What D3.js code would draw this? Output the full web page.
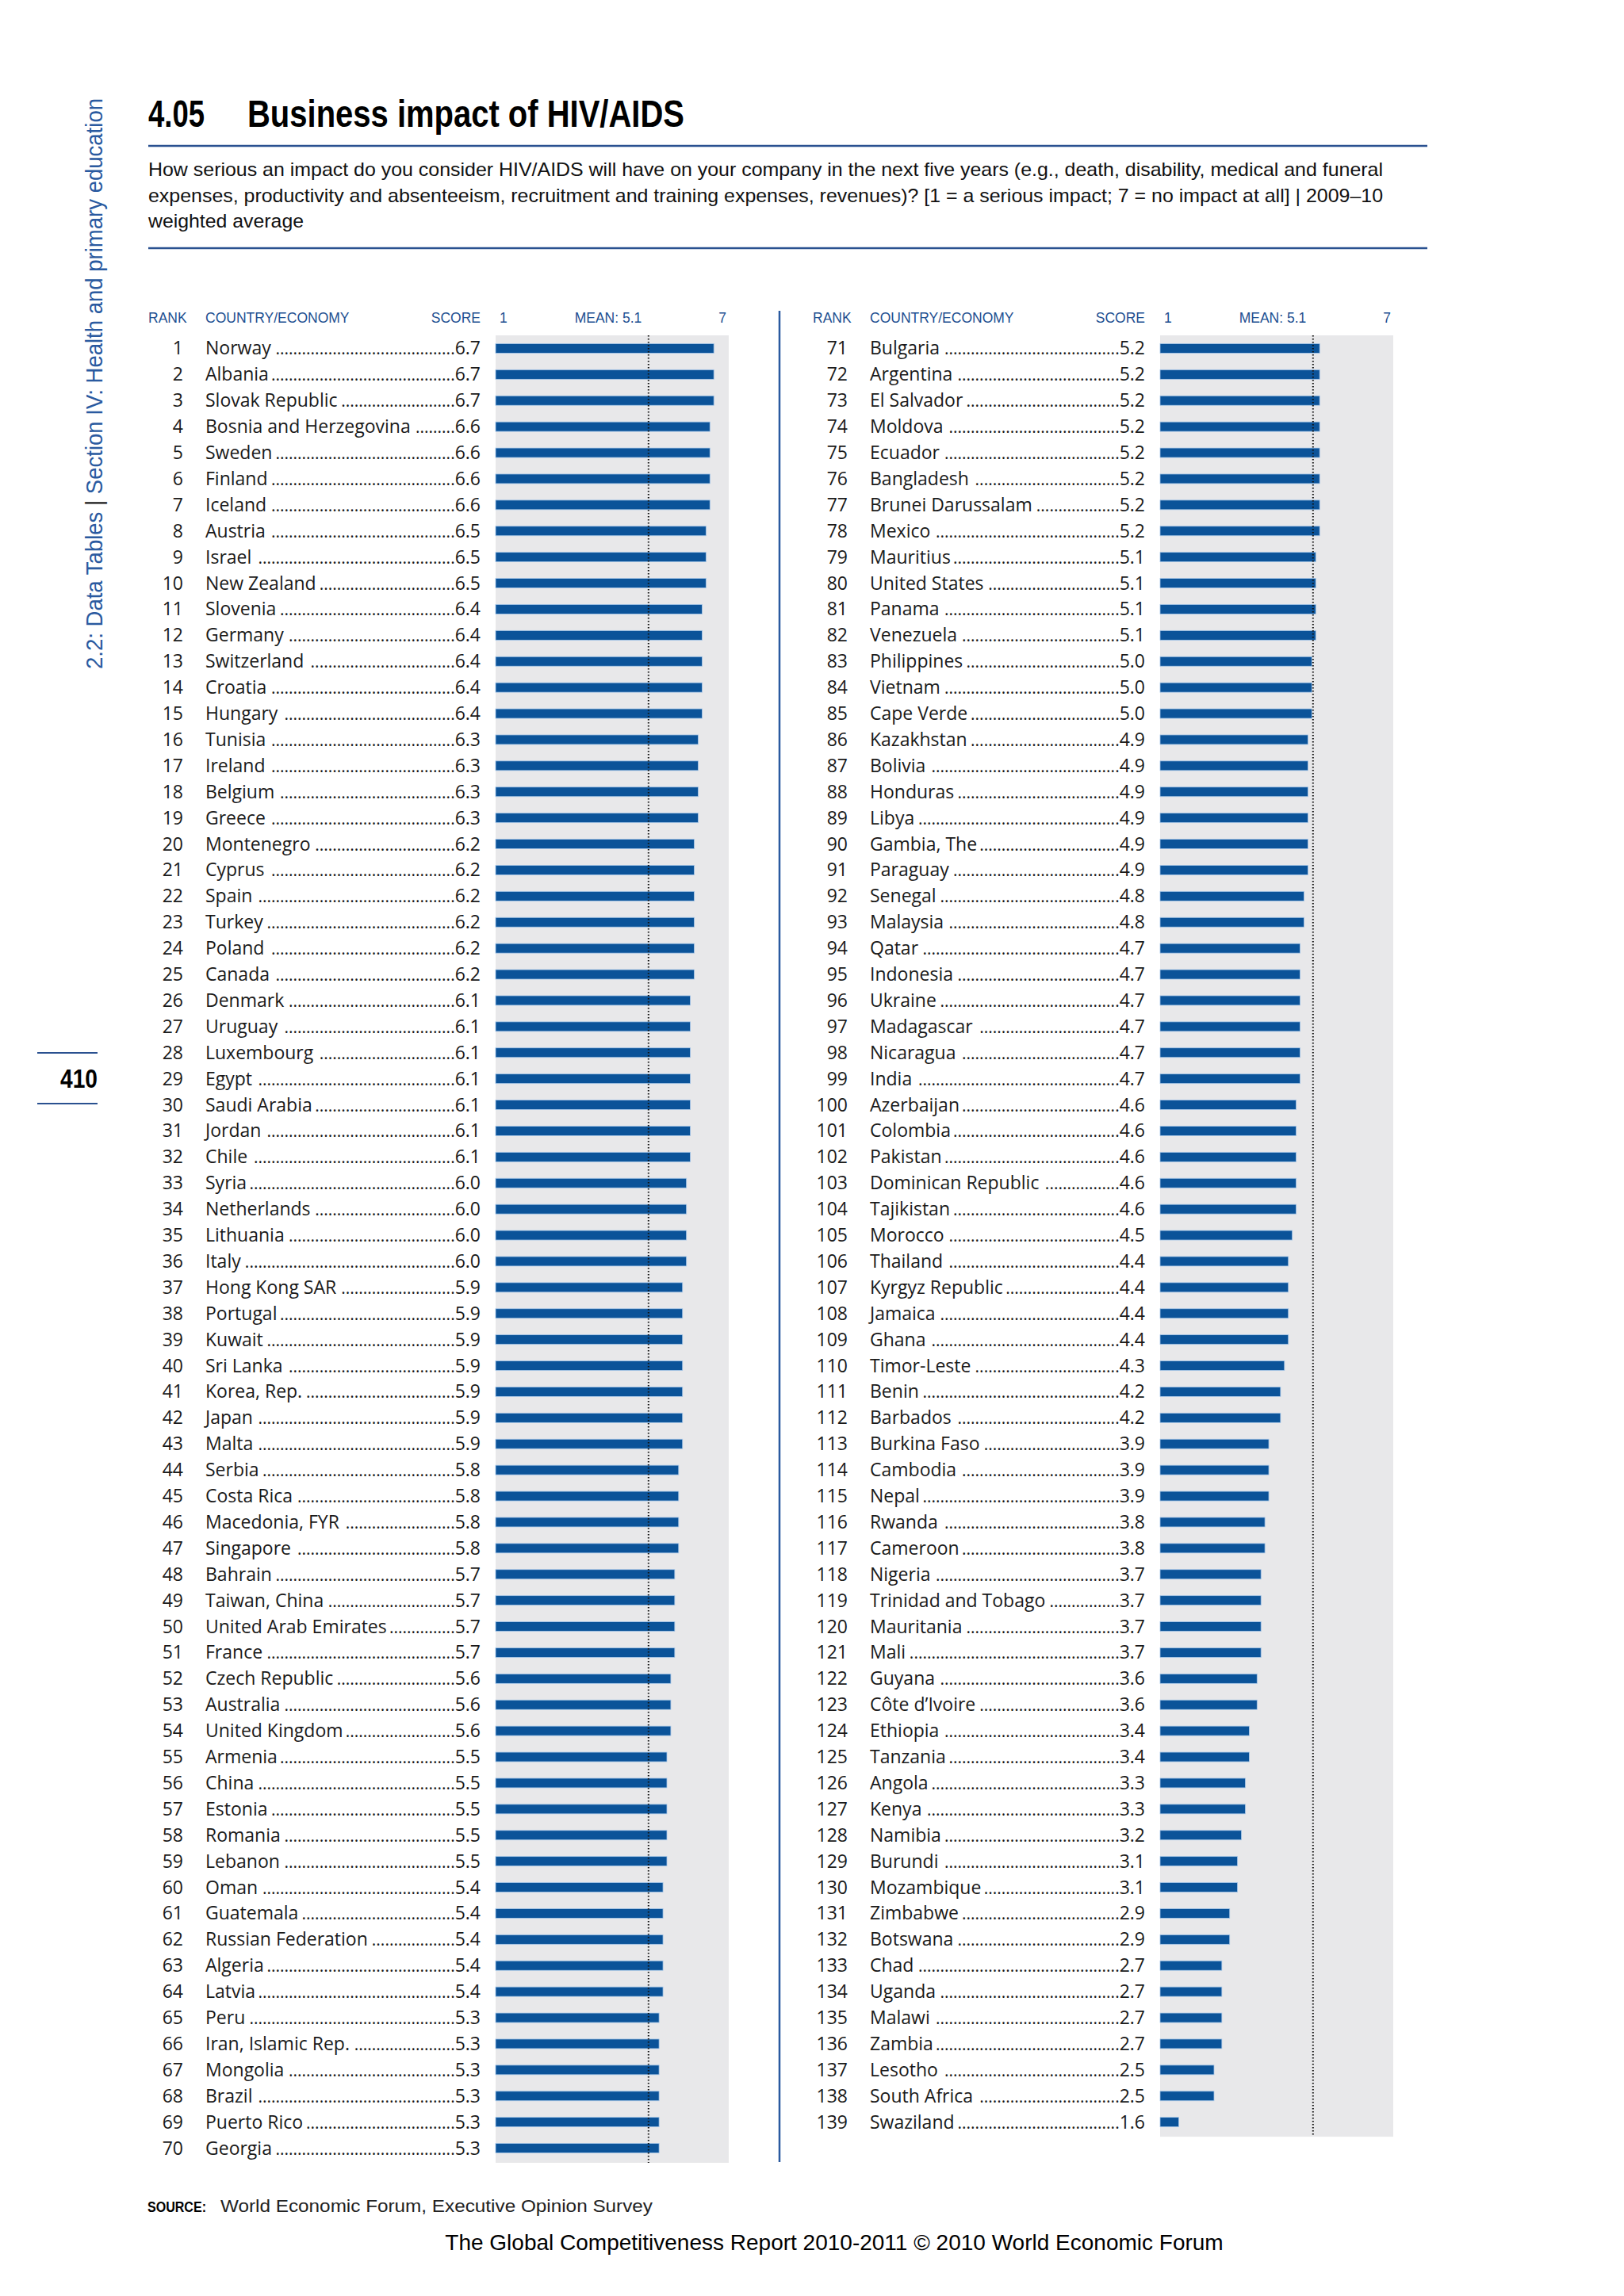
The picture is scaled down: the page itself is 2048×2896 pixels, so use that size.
<!DOCTYPE html>
<html>
<head>
<meta charset="utf-8">
<script src="https://cdn.jsdelivr.net/npm/d3@7"></script>
<style>
  body { margin: 0; background: #fff; }
  svg { display: block; }
</style>
</head>
<body>
<svg id="chart"></svg>
<script>
// countries in rank order (rank = position + 1)
const countries = [
  "Norway", "Albania", "Slovak Republic", "Bosnia and Herzegovina", "Sweden", "Finland", "Iceland",
  "Austria", "Israel", "New Zealand", "Slovenia", "Germany", "Switzerland", "Croatia", "Hungary",
  "Tunisia", "Ireland", "Belgium", "Greece", "Montenegro", "Cyprus", "Spain", "Turkey", "Poland",
  "Canada", "Denmark", "Uruguay", "Luxembourg", "Egypt", "Saudi Arabia", "Jordan", "Chile", "Syria",
  "Netherlands", "Lithuania", "Italy", "Hong Kong SAR", "Portugal", "Kuwait", "Sri Lanka",
  "Korea, Rep.", "Japan", "Malta", "Serbia", "Costa Rica", "Macedonia, FYR", "Singapore", "Bahrain",
  "Taiwan, China", "United Arab Emirates", "France", "Czech Republic", "Australia", "United Kingdom",
  "Armenia", "China", "Estonia", "Romania", "Lebanon", "Oman", "Guatemala", "Russian Federation",
  "Algeria", "Latvia", "Peru", "Iran, Islamic Rep.", "Mongolia", "Brazil", "Puerto Rico", "Georgia",
  "Bulgaria", "Argentina", "El Salvador", "Moldova", "Ecuador", "Bangladesh", "Brunei Darussalam",
  "Mexico", "Mauritius", "United States", "Panama", "Venezuela", "Philippines", "Vietnam",
  "Cape Verde", "Kazakhstan", "Bolivia", "Honduras", "Libya", "Gambia, The", "Paraguay", "Senegal",
  "Malaysia", "Qatar", "Indonesia", "Ukraine", "Madagascar", "Nicaragua", "India", "Azerbaijan",
  "Colombia", "Pakistan", "Dominican Republic", "Tajikistan", "Morocco", "Thailand",
  "Kyrgyz Republic", "Jamaica", "Ghana", "Timor-Leste", "Benin", "Barbados", "Burkina Faso",
  "Cambodia", "Nepal", "Rwanda", "Cameroon", "Nigeria", "Trinidad and Tobago", "Mauritania", "Mali",
  "Guyana", "Côte d’Ivoire", "Ethiopia", "Tanzania", "Angola", "Kenya", "Namibia", "Burundi",
  "Mozambique", "Zimbabwe", "Botswana", "Chad", "Uganda", "Malawi", "Zambia", "Lesotho",
  "South Africa", "Swaziland"
];

const scores = [
  6.7, 6.7, 6.7, 6.6, 6.6, 6.6, 6.6, 6.5, 6.5, 6.5, 6.4, 6.4, 6.4, 6.4, 6.4,
  6.3, 6.3, 6.3, 6.3, 6.2, 6.2, 6.2, 6.2, 6.2, 6.2, 6.1, 6.1, 6.1, 6.1, 6.1, 6.1, 6.1,
  6.0, 6.0, 6.0, 6.0, 5.9, 5.9, 5.9, 5.9, 5.9, 5.9, 5.9, 5.8, 5.8, 5.8, 5.8,
  5.7, 5.7, 5.7, 5.7, 5.6, 5.6, 5.6, 5.5, 5.5, 5.5, 5.5, 5.5, 5.4, 5.4, 5.4, 5.4, 5.4,
  5.3, 5.3, 5.3, 5.3, 5.3, 5.3,
  5.2, 5.2, 5.2, 5.2, 5.2, 5.2, 5.2, 5.2, 5.1, 5.1, 5.1, 5.1, 5.0, 5.0, 5.0,
  4.9, 4.9, 4.9, 4.9, 4.9, 4.9, 4.8, 4.8, 4.7, 4.7, 4.7, 4.7, 4.7, 4.7,
  4.6, 4.6, 4.6, 4.6, 4.6, 4.5, 4.4, 4.4, 4.4, 4.4, 4.3, 4.2, 4.2,
  3.9, 3.9, 3.9, 3.8, 3.8, 3.7, 3.7, 3.7, 3.7, 3.6, 3.6, 3.4, 3.4, 3.3, 3.3, 3.2, 3.1, 3.1,
  2.9, 2.9, 2.7, 2.7, 2.7, 2.7, 2.5, 2.5, 1.6
];

const scaleExtent = [1, 7];
const meanLabel = "MEAN: 5.1";
const meanLine = 5.03;   // where the dotted line sits in the picture
const headers = ["RANK", "COUNTRY/ECONOMY", "SCORE"];

const titleNumber = "4.05";
const titleText = "Business impact of HIV/AIDS";
const subtitleLines = [
  "How serious an impact do you consider HIV/AIDS will have on your company in the next five years (e.g., death, disability, medical and funeral",
  "expenses, productivity and absenteeism, recruitment and training expenses, revenues)? [1 = a serious impact; 7 = no impact at all]  |  2009–10",
  "weighted average"
];
const sideLeft = "2.2: Data Tables";
const sideRight = "Section IV: Health and primary education";
const pageNumber = "410";
const sourceText = "World Economic Forum, Executive Opinion Survey";
const footerText = "The Global Competitiveness Report 2010-2011 © 2010 World Economic Forum";

const data = countries.map((c, i) => ({ rank: i + 1, name: c, score: scores[i] }));

const W = 2048, H = 2896;
const BLUE = "#1d4f91";
const BAR = "#0b5399";
const BODY_FONT = "'Open Sans', 'Liberation Sans', sans-serif";
const HEAD_FONT = "'Liberation Sans', Arial, sans-serif";

const svg = d3.select("#chart")
    .attr("width", W)
    .attr("height", H)
    .attr("viewBox", `0 0 ${W} ${H}`);

svg.append("rect").attr("width", W).attr("height", H).attr("fill", "#fff");

// ---- title block
svg.append("text")
    .attr("x", 187).attr("y", 160)
    .attr("font-family", HEAD_FONT).attr("font-weight", 700).attr("font-size", 48)
    .attr("textLength", 71).attr("lengthAdjust", "spacingAndGlyphs")
    .text(titleNumber);
svg.append("text")
    .attr("x", 312).attr("y", 160)
    .attr("font-family", HEAD_FONT).attr("font-weight", 700).attr("font-size", 48)
    .attr("textLength", 551).attr("lengthAdjust", "spacingAndGlyphs")
    .text(titleText);

[184, 313].forEach(y => {
    svg.append("line")
        .attr("x1", 187).attr("x2", 1800).attr("y1", y).attr("y2", y)
        .attr("stroke", "#2a5190").attr("stroke-width", 2.5);
});

const subLengths = [1557, 1557, null];
subtitleLines.forEach((line, i) => {
    const t = svg.append("text")
        .attr("x", 187).attr("y", 222 + i * 32.5)
        .attr("font-family", HEAD_FONT).attr("font-size", 24).attr("fill", "#111")
        .text(line);
    if (subLengths[i]) t.attr("textLength", subLengths[i]).attr("lengthAdjust", "spacingAndGlyphs");
    else t.attr("textLength", 196).attr("lengthAdjust", "spacingAndGlyphs");
});

// ---- side label
const side = svg.append("text")
    .attr("transform", "translate(129,844) rotate(-90)")
    .attr("font-family", HEAD_FONT).attr("font-size", 29).attr("fill", "#2a5aa0")
    .attr("textLength", 720).attr("lengthAdjust", "spacingAndGlyphs");
side.append("tspan").text(sideLeft + "  ");
side.append("tspan").attr("fill", "#222").text("|");
side.append("tspan").text("  " + sideRight);

// ---- page number
[1328, 1392].forEach(y => {
    svg.append("line").attr("x1", 47).attr("x2", 123).attr("y1", y).attr("y2", y)
        .attr("stroke", "#2a5190").attr("stroke-width", 2);
});
svg.append("text")
    .attr("x", 123).attr("y", 1372).attr("text-anchor", "end")
    .attr("font-family", HEAD_FONT).attr("font-weight", 700).attr("font-size", 33)
    .attr("textLength", 47).attr("lengthAdjust", "spacingAndGlyphs")
    .text(pageNumber);

// ---- panels
const rowTop = 423, rowStep = 32.9, perPanel = 70;
const panels = [
    { offset: 0, rows: data.slice(0, perPanel) },
    { offset: 838, rows: data.slice(perPanel) }
];

const bgX = 625, bgW = 294;
const xScale = d3.scaleLinear().domain(scaleExtent).range([bgX - 6, bgX + 290]);

panels.forEach(p => {
    const g = svg.append("g").attr("transform", `translate(${p.offset},0)`);
    const yScale = d3.scaleBand()
        .domain(p.rows.map(d => d.rank))
        .range([rowTop, rowTop + p.rows.length * rowStep]);
    const mid = d => yScale(d.rank) + yScale.bandwidth() / 2;

    // column headers
    const hy = 407;
    const head = (x, txt, anchor) => g.append("text")
        .attr("x", x).attr("y", hy).attr("text-anchor", anchor)
        .attr("font-family", HEAD_FONT).attr("font-size", 17.5).attr("fill", BLUE)
        .text(txt);
    head(187, headers[0], "start");
    head(259, headers[1], "start");
    head(606, headers[2], "end");
    head(bgX + 5, String(scaleExtent[0]), "start");
    head(bgX + 142, meanLabel, "middle");
    head(bgX + 291, String(scaleExtent[1]), "end");

    // grey background
    g.append("rect")
        .attr("x", bgX).attr("y", rowTop)
        .attr("width", bgW).attr("height", yScale.range()[1] + 2 - rowTop)
        .attr("fill", "#e8e8ea");

    // bars
    g.selectAll("rect.bar").data(p.rows).enter().append("rect")
        .attr("class", "bar")
        .attr("x", bgX)
        .attr("y", d => mid(d) - 6)
        .attr("width", d => xScale(d.score) - bgX)
        .attr("height", 12)
        .attr("fill", BAR)
        .attr("stroke", "#a9c9ea").attr("stroke-width", 0.8);

    // mean dotted line
    g.append("line")
        .attr("x1", xScale(meanLine)).attr("x2", xScale(meanLine))
        .attr("y1", rowTop).attr("y2", yScale.range()[1] + 2)
        .attr("stroke", "#111").attr("stroke-width", 2)
        .attr("stroke-dasharray", "1.6,2.4");

    // rows of text
    const rows = g.selectAll("g.row").data(p.rows).enter().append("g")
        .attr("class", "row")
        .attr("transform", d => `translate(0,${mid(d) + 8})`);

    const txt = sel => sel.attr("font-family", BODY_FONT).attr("font-size", 23).attr("fill", "#1a1a1a");

    rows.append("text").call(txt).attr("x", 231).attr("text-anchor", "end").text(d => d.rank);
    rows.append("text").call(txt).attr("x", 606).attr("text-anchor", "end").attr("class", "score")
        .text(d => d.score.toFixed(1));
    rows.append("text").call(txt).attr("x", 259).attr("class", "name").text(d => d.name);

    // dot leaders between name and score
    rows.each(function () {
        const row = d3.select(this);
        const nameEnd = 259 + row.select(".name").node().getComputedTextLength();
        const scoreStart = 606 - row.select(".score").node().getComputedTextLength();
        const probe = row.append("text").call(txt).attr("font-size", 21).text("..........");
        const dotW = probe.node().getComputedTextLength() / 10;
        probe.remove();
        const n = Math.max(0, Math.floor((scoreStart - nameEnd - 3) / dotW));
        row.append("text").call(txt).attr("font-size", 21)
            .attr("x", scoreStart).attr("text-anchor", "end")
            .text(".".repeat(n));
    });
});

// divider between the two panels
svg.append("line")
    .attr("x1", 983).attr("x2", 983).attr("y1", 392).attr("y2", 2727)
    .attr("stroke", "#2a5aa0").attr("stroke-width", 2.5);

// ---- source and footer
svg.append("text")
    .attr("x", 186).attr("y", 2790)
    .attr("font-family", HEAD_FONT).attr("font-weight", 700).attr("font-size", 18)
    .attr("textLength", 74).attr("lengthAdjust", "spacingAndGlyphs")
    .text("SOURCE:");
svg.append("text")
    .attr("x", 278).attr("y", 2790)
    .attr("font-family", HEAD_FONT).attr("font-size", 22).attr("fill", "#222")
    .attr("textLength", 545).attr("lengthAdjust", "spacingAndGlyphs")
    .text(sourceText);
svg.append("text")
    .attr("x", 1052).attr("y", 2838).attr("text-anchor", "middle")
    .attr("font-family", HEAD_FONT).attr("font-size", 28).attr("fill", "#000")
    .text(footerText);
</script>
</body>
</html>
